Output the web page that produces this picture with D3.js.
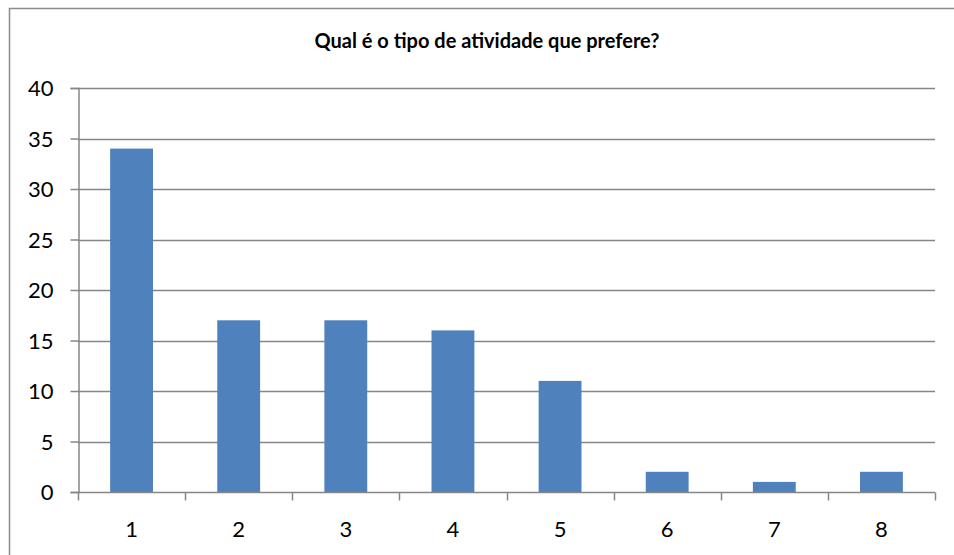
<!DOCTYPE html>
<html>
<head>
<meta charset="utf-8">
<script src="https://cdn.jsdelivr.net/npm/d3@7"></script>
<style>
  body { margin: 0; background: #fff; }
  text { font-family: Lato, "Open Sans", sans-serif; }
</style>
</head>
<body>
<div id="chart"></div>
<script>
const title = "Qual é o tipo de atividade que prefere?";
const categories = ["1", "2", "3", "4", "5", "6", "7", "8"];
const values = [34, 17, 17, 16, 11, 2, 1, 2];
const yTicks = [0, 5, 10, 15, 20, 25, 30, 35, 40];

const width = 954,
  height = 555,
  plotLeft = 78,
  plotRight = 935,
  plotTop = 88,
  plotBottom = 492;

const svg = d3
  .select("#chart")
  .append("svg")
  .attr("width", width)
  .attr("height", height);

// outer frame (only left and top edges are visible)
svg
  .append("path")
  .attr("d", `M9.5,${height} V8.5 H${width}`)
  .attr("fill", "none")
  .attr("stroke", "#8c8c8c")
  .attr("stroke-width", 1.5);

svg
  .append("text")
  .attr("x", 487)
  .attr("y", 48)
  .attr("text-anchor", "middle")
  .style("font-weight", "bold")
  .style("font-size", "20px")
  .text(title);

const x = d3
  .scaleBand()
  .domain(categories)
  .range([plotLeft, plotRight])
  .paddingInner(0.6)
  .paddingOuter(0.3);

const y = d3.scaleLinear().domain([0, 40]).range([plotBottom, plotTop]);

// gridlines
svg
  .append("g")
  .selectAll("line")
  .data(yTicks.filter(d => d > 0))
  .enter()
  .append("line")
  .attr("x1", plotLeft)
  .attr("x2", plotRight)
  .attr("y1", d => Math.round(y(d)) + 0.5)
  .attr("y2", d => Math.round(y(d)) + 0.5)
  .attr("stroke", "#868686")
  .attr("stroke-width", 1.5);

// bars
svg
  .append("g")
  .selectAll("rect")
  .data(values)
  .enter()
  .append("rect")
  .attr("x", (d, i) => x(categories[i]))
  .attr("y", d => y(d))
  .attr("width", x.bandwidth())
  .attr("height", d => plotBottom - y(d))
  .attr("fill", "#4f81bd");

// y axis
const yAxis = svg
  .append("g")
  .attr("transform", `translate(${plotLeft + 0.5},0)`)
  .call(
    d3
      .axisLeft(y)
      .tickValues(yTicks)
      .tickSize(8)
      .tickPadding(17)
  );
yAxis.select(".domain").attr("stroke", "#868686").attr("stroke-width", 1.5);
yAxis.selectAll(".tick line").attr("stroke", "#868686").attr("stroke-width", 1.5);
yAxis
  .selectAll(".tick text")
  .attr("fill", "#000")
  .style("font-size", "22px")
  .style("font-family", "Lato, sans-serif")
  .attr("dy", "0.35em");

// x axis with ticks at category boundaries
const xAxis = svg.append("g").attr("transform", `translate(0,${plotBottom + 0.5})`);
xAxis
  .append("line")
  .attr("x1", plotLeft)
  .attr("x2", plotRight)
  .attr("stroke", "#868686")
  .attr("stroke-width", 1.5);
const step = x.step();
xAxis
  .selectAll(".bound")
  .data(d3.range(categories.length + 1))
  .enter()
  .append("line")
  .attr("class", "bound")
  .attr("x1", i => Math.round(plotLeft + i * step) + 0.5)
  .attr("x2", i => Math.round(plotLeft + i * step) + 0.5)
  .attr("y1", 0)
  .attr("y2", 8)
  .attr("stroke", "#868686")
  .attr("stroke-width", 1.5);
xAxis
  .selectAll(".lbl")
  .data(categories)
  .enter()
  .append("text")
  .attr("class", "lbl")
  .attr("x", d => x(d) + x.bandwidth() / 2)
  .attr("y", 44)
  .attr("text-anchor", "middle")
  .style("font-size", "22px")
  .text(d => d);
</script>
</body>
</html>
